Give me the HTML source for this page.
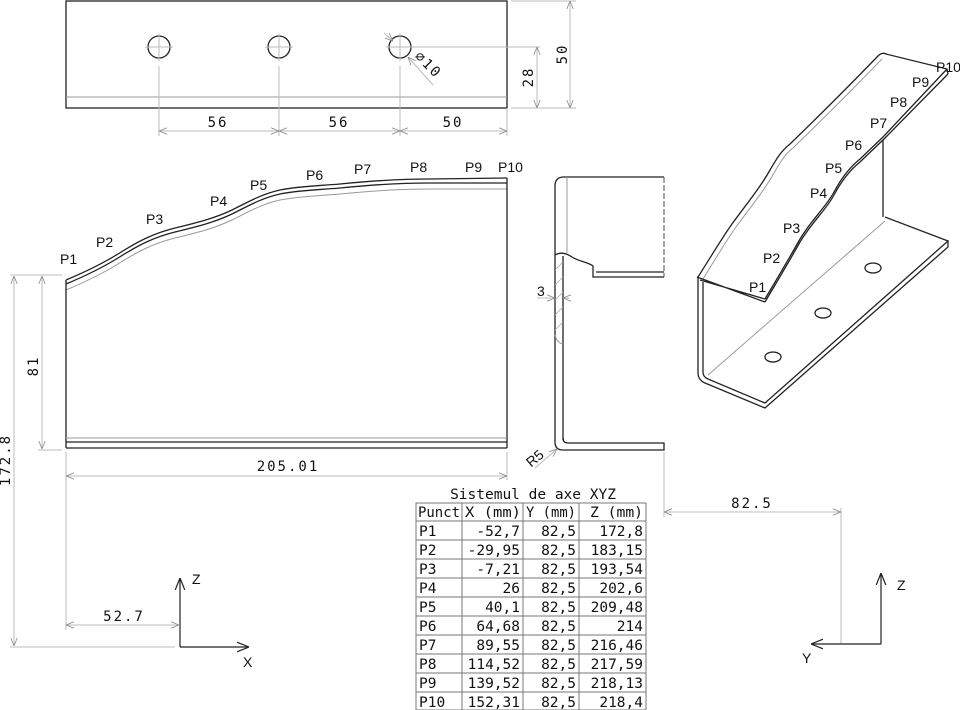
<!DOCTYPE html>
<html><head><meta charset="utf-8"><style>
html,body{margin:0;padding:0;background:#fff;}
svg{display:block;}
.d{font-family:"DejaVu Sans Mono","Liberation Mono",monospace;font-size:14px;fill:#111;}
.t{font-family:"DejaVu Sans Mono","Liberation Mono",monospace;font-size:14.5px;fill:#111;}
.p{font-family:"Liberation Sans",sans-serif;font-size:14px;fill:#111;}
.k{stroke:#222;fill:none;stroke-width:1.3;}
.g{stroke:#999;fill:none;stroke-width:1;}
.l{stroke:#bbb;fill:none;stroke-width:1;}
</style></head><body>
<svg width="960" height="710" viewBox="0 0 960 710" xmlns="http://www.w3.org/2000/svg">
<defs>
<marker id="a" viewBox="0 0 10 10" refX="10" refY="5" markerWidth="8" markerHeight="8" orient="auto-start-reverse"><path d="M0,1 L10,5 L0,9" fill="none" stroke="#888" stroke-width="1"/></marker>
<marker id="b" viewBox="0 0 10 10" refX="10" refY="5" markerWidth="10" markerHeight="10" orient="auto-start-reverse"><path d="M0,1 L10,5 L0,9" fill="none" stroke="#222" stroke-width="1"/></marker>
</defs>

<!-- TOP VIEW -->
<rect x="66" y="1" width="441" height="107" class="k"/>
<line x1="66" y1="97" x2="507" y2="97" class="g"/>
<g class="k">
<ellipse cx="159" cy="47" rx="11" ry="11"/>
<ellipse cx="279" cy="47" rx="11" ry="11"/>
<ellipse cx="400" cy="47" rx="11" ry="11"/>
</g>
<g class="l">
<line x1="145" y1="47" x2="173" y2="47"/><line x1="159" y1="33" x2="159" y2="61"/>
<line x1="265" y1="47" x2="293" y2="47"/><line x1="279" y1="33" x2="279" y2="61"/>
<line x1="386" y1="47" x2="540" y2="47"/><line x1="400" y1="33" x2="400" y2="61"/>
<line x1="159" y1="66" x2="159" y2="136"/>
<line x1="279" y1="66" x2="279" y2="136"/>
<line x1="400" y1="66" x2="400" y2="136"/>
<line x1="507" y1="108" x2="507" y2="136"/>
<line x1="511" y1="108" x2="576" y2="108"/>
<line x1="511" y1="1" x2="576" y2="1"/>
</g>
<g class="l" marker-start="url(#a)" marker-end="url(#a)">
<line x1="159" y1="131" x2="279" y2="131"/>
<line x1="279" y1="131" x2="400" y2="131"/>
<line x1="400" y1="131" x2="507" y2="131"/>
<line x1="537" y1="47" x2="537" y2="108"/>
<line x1="570" y1="1" x2="570" y2="108"/>
</g>
<line x1="433" y1="85" x2="408" y2="57" class="l" marker-end="url(#a)"/>
<line x1="384" y1="33" x2="393" y2="41" class="l" marker-end="url(#a)"/>
<text class="d" x="218" y="127" text-anchor="middle" letter-spacing="2">56</text>
<text class="d" x="339" y="127" text-anchor="middle" letter-spacing="2">56</text>
<text class="d" x="453" y="127" text-anchor="middle" letter-spacing="2">50</text>
<text class="d" transform="translate(533,77) rotate(-90)" text-anchor="middle" letter-spacing="2">28</text>
<text class="d" transform="translate(567,54) rotate(-90)" text-anchor="middle" letter-spacing="2">50</text>
<text class="d" transform="translate(425,68) rotate(45)" text-anchor="middle" letter-spacing="2" font-size="13">⌀10</text>

<!-- FRONT VIEW -->
<path class="k" d="M66,280 C90,270 105,262 118,254 C140,240 155,233 175,228 C200,222 215,218 232,210 C250,201 262,194 280,190 C300,186 318,186 340,184 C370,181 400,179 430,179 L507,178"/>
<path class="k" d="M66,284 C90,274 105,266 118,258 C140,244 155,237 175,232 C200,226 215,222 232,214 C250,205 262,198 280,194 C300,190 318,190 340,188 C370,185 400,183 430,183 L507,183"/>
<path class="g" d="M66,290 C90,280 105,272 118,264 C140,250 155,243 175,238 C200,232 215,228 232,220 C250,211 262,204 280,200 C300,196 318,196 340,194 C370,191 400,189 430,189 L507,189"/>
<line x1="66" y1="280" x2="66" y2="448" class="k"/>
<line x1="507" y1="178" x2="507" y2="448" class="k"/>
<line x1="66" y1="438" x2="507" y2="438" class="g"/>
<line x1="66" y1="442" x2="507" y2="442" class="k"/>
<line x1="66" y1="448" x2="507" y2="448" class="k" stroke-width="1.8"/>
<text class="p" x="60" y="264">P1</text>
<text class="p" x="96" y="247">P2</text>
<text class="p" x="146" y="224">P3</text>
<text class="p" x="210" y="206">P4</text>
<text class="p" x="250" y="190">P5</text>
<text class="p" x="306" y="180">P6</text>
<text class="p" x="354" y="174">P7</text>
<text class="p" x="410" y="172">P8</text>
<text class="p" x="465" y="172">P9</text>
<text class="p" x="498" y="172">P10</text>
<g class="l">
<line x1="10" y1="275" x2="62" y2="275"/>
<line x1="38" y1="450" x2="62" y2="450"/>
<line x1="66" y1="452" x2="66" y2="630"/>
<line x1="507" y1="452" x2="507" y2="480"/>
<line x1="10" y1="647" x2="175" y2="647"/>
</g>
<g class="l" marker-start="url(#a)" marker-end="url(#a)">
<line x1="42" y1="276" x2="42" y2="449"/>
<line x1="14" y1="276" x2="14" y2="646"/>
<line x1="66" y1="476" x2="507" y2="476"/>
<line x1="66" y1="625" x2="179" y2="625"/>
</g>
<text class="d" transform="translate(38,366) rotate(-90)" text-anchor="middle" letter-spacing="2">81</text>
<text class="d" transform="translate(10,460) rotate(-90)" text-anchor="middle" letter-spacing="2">172.8</text>
<text class="d" x="288" y="471" text-anchor="middle" letter-spacing="2">205.01</text>
<text class="d" x="124" y="621" text-anchor="middle" letter-spacing="2">52.7</text>
<line x1="180" y1="647" x2="180" y2="578" stroke="#222" stroke-width="1.2" marker-end="url(#b)"/>
<line x1="180" y1="647" x2="249" y2="647" stroke="#222" stroke-width="1.2" marker-end="url(#b)"/>
<text class="p" x="192" y="584">Z</text>
<text class="p" x="243" y="667">X</text>

<!-- SIDE VIEW -->
<path class="k" d="M664,177 L564,177 Q555,177 555,186 L555,255"/>
<line x1="567" y1="177" x2="567" y2="253" class="g"/>
<line x1="664" y1="177" x2="664" y2="277" stroke="#555" stroke-width="1" stroke-dasharray="6,2"/>
<path class="k" d="M555,255 C560,252 566,253 572,257 C580,262 588,262 593,266 L593,277 L664,277"/>
<line x1="596" y1="272" x2="664" y2="272" class="k"/>
<line x1="555" y1="255" x2="555" y2="442" class="k"/>
<line x1="563" y1="256" x2="563" y2="440" class="k"/>
<g stroke="#aaa" stroke-width="0.8">
<line x1="555" y1="270" x2="563" y2="262"/><line x1="555" y1="285" x2="563" y2="277"/>
<line x1="555" y1="300" x2="563" y2="292"/><line x1="555" y1="315" x2="563" y2="307"/>
<line x1="555" y1="330" x2="563" y2="322"/>
</g>
<path d="M555,335 Q557,343 563,344" class="g"/>
<path class="k" d="M555,442 Q555,450 563,450 L664,450 L664,443 L568,443 Q563,443 563,438"/>
<line x1="664" y1="452" x2="664" y2="517" class="l"/>
<line x1="841" y1="508" x2="841" y2="644" class="l"/>
<line x1="664" y1="512" x2="841" y2="512" class="l" marker-start="url(#a)" marker-end="url(#a)"/>
<text class="d" x="752" y="508" text-anchor="middle" letter-spacing="2">82.5</text>
<line x1="537" y1="298" x2="555" y2="298" class="l" marker-end="url(#a)"/>
<line x1="569" y1="298" x2="563" y2="298" class="l" marker-end="url(#a)"/>
<text class="p" x="537" y="296">3</text>
<line x1="535" y1="468" x2="557" y2="449" class="l" marker-end="url(#a)"/>
<text class="p" transform="translate(538,462) rotate(-40)" text-anchor="middle">R5</text>
<line x1="881" y1="644" x2="881" y2="573" stroke="#222" stroke-width="1.2" marker-end="url(#b)"/>
<line x1="881" y1="644" x2="811" y2="644" stroke="#222" stroke-width="1.2" marker-end="url(#b)"/>
<text class="p" x="897" y="590">Z</text>
<text class="p" x="802" y="663">Y</text>

<!-- ISO VIEW -->
<path class="k" d="M698,277 C712,255 722,238 732,224 C745,206 760,188 770,170 C776,160 780,152 790,144 C820,115 850,85 878,56 Q882,52 886,54 L947,69 L948,74"/>
<path class="g" d="M703,279 C716,258 726,241 736,227 C749,209 764,191 774,173 C780,163 784,155 794,147 C824,118 854,88 882,59"/>
<path class="k" d="M765,302 C778,280 790,260 800,242 C812,222 826,210 834,195 C842,180 850,170 860,162 L883,140 L948,74"/>
<path class="k" d="M765,299 C778,277 790,257 800,239 C812,219 826,207 834,192 C842,177 850,167 860,159 L883,137 L947,69"/>
<path class="k" d="M697,277 L765,302 M700,280 L765,299"/>
<path class="k" d="M698,277 L698,373 Q698,380 705,383 L765,408 L948,247 L948,241"/>
<path class="k" d="M703,282 L703,372 Q703,377 708,379 L765,403 L948,241 L885,217"/>
<line x1="883" y1="140" x2="883" y2="217" class="k"/>
<line x1="708" y1="375" x2="885" y2="221" class="g"/>
<g class="k" stroke-width="1">
<ellipse cx="873" cy="268" rx="8" ry="5"/><ellipse cx="823" cy="313" rx="8" ry="5"/><ellipse cx="773" cy="357" rx="8" ry="5"/>
</g>
<g class="p">
<text x="749" y="292">P1</text><text x="763" y="263">P2</text><text x="783" y="233">P3</text>
<text x="810" y="198">P4</text><text x="825" y="173">P5</text><text x="845" y="150">P6</text>
<text x="870" y="128">P7</text><text x="890" y="107">P8</text><text x="912" y="87">P9</text>
<text x="936" y="72">P10</text>
</g>

<!-- TABLE -->
<text class="t" x="533" y="499" text-anchor="middle">Sistemul de axe XYZ</text>
<g stroke="#777" stroke-width="1" fill="none">
<rect x="416" y="503" width="230" height="207"/>
<line x1="462" y1="503" x2="462" y2="710"/><line x1="523" y1="503" x2="523" y2="710"/><line x1="579" y1="503" x2="579" y2="710"/>
<line x1="416" y1="521" x2="646" y2="521"/><line x1="416" y1="540" x2="646" y2="540"/><line x1="416" y1="559" x2="646" y2="559"/>
<line x1="416" y1="578" x2="646" y2="578"/><line x1="416" y1="597" x2="646" y2="597"/><line x1="416" y1="616" x2="646" y2="616"/>
<line x1="416" y1="635" x2="646" y2="635"/><line x1="416" y1="654" x2="646" y2="654"/><line x1="416" y1="673" x2="646" y2="673"/>
<line x1="416" y1="692" x2="646" y2="692"/>
</g>
<g class="t">
<text x="418" y="517" textLength="42" lengthAdjust="spacingAndGlyphs">Punct</text><text x="465" y="517" textLength="56" lengthAdjust="spacingAndGlyphs">X (mm)</text><text x="526" y="517" textLength="50" lengthAdjust="spacingAndGlyphs">Y (mm)</text><text x="590" y="517" textLength="53" lengthAdjust="spacingAndGlyphs">Z (mm)</text>
</g>
<g class="t">
<text x="419" y="536">P1</text><text x="419" y="555">P2</text><text x="419" y="574">P3</text><text x="419" y="593">P4</text><text x="419" y="612">P5</text>
<text x="419" y="631">P6</text><text x="419" y="650">P7</text><text x="419" y="669">P8</text><text x="419" y="688">P9</text><text x="419" y="707">P10</text>
</g>
<g class="t" text-anchor="end">
<text x="520" y="536">-52,7</text><text x="520" y="555">-29,95</text><text x="520" y="574">-7,21</text><text x="520" y="593">26</text><text x="520" y="612">40,1</text>
<text x="520" y="631">64,68</text><text x="520" y="650">89,55</text><text x="520" y="669">114,52</text><text x="520" y="688">139,52</text><text x="520" y="707">152,31</text>
<text x="576" y="536">82,5</text><text x="576" y="555">82,5</text><text x="576" y="574">82,5</text><text x="576" y="593">82,5</text><text x="576" y="612">82,5</text>
<text x="576" y="631">82,5</text><text x="576" y="650">82,5</text><text x="576" y="669">82,5</text><text x="576" y="688">82,5</text><text x="576" y="707">82,5</text>
<text x="643" y="536">172,8</text><text x="643" y="555">183,15</text><text x="643" y="574">193,54</text><text x="643" y="593">202,6</text><text x="643" y="612">209,48</text>
<text x="643" y="631">214</text><text x="643" y="650">216,46</text><text x="643" y="669">217,59</text><text x="643" y="688">218,13</text><text x="643" y="707">218,4</text>
</g>
</svg>
</body></html>
